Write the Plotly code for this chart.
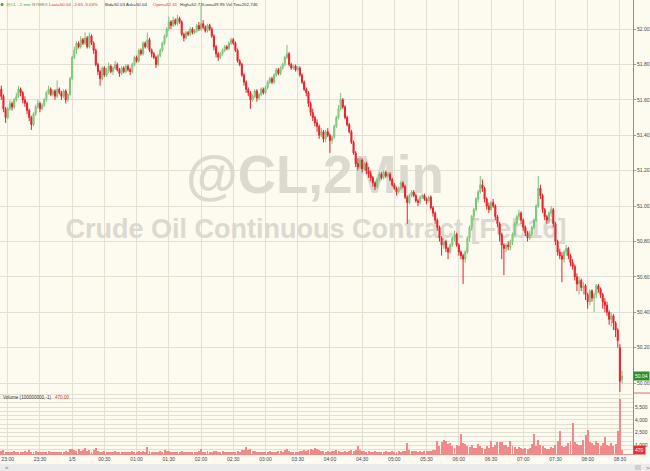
import pandas as pd
import plotly.graph_objects as go

# ---------------- data ----------------
START = "2016-01-04 22:54"
N_BARS = 290

opens = [
 51.66,51.62,51.55,51.50,51.55,51.58,51.56,51.60,51.62,51.66,
 51.64,51.60,51.58,51.54,51.50,51.46,51.52,51.56,51.58,51.55,
 51.57,51.60,51.64,51.66,51.63,51.65,51.62,51.66,51.64,51.62,
 51.65,51.60,51.63,51.72,51.84,51.88,51.92,51.90,51.94,51.92,
 51.95,51.90,51.96,51.92,51.88,51.80,51.76,51.72,51.78,51.74,
 51.77,51.79,51.76,51.78,51.80,51.77,51.75,51.78,51.76,51.79,
 51.77,51.76,51.80,51.84,51.82,51.88,51.86,51.92,51.90,51.94,
 51.88,51.86,51.84,51.80,51.85,51.88,51.92,51.96,52.00,52.04,
 52.02,52.05,52.03,52.06,52.04,51.97,51.95,51.98,51.97,52.00,
 51.98,51.99,52.02,52.00,52.03,52.01,51.99,52.02,52.00,51.96,
 51.90,51.86,51.84,51.86,51.88,51.90,51.89,51.92,51.94,51.92,
 51.88,51.82,51.80,51.74,51.70,51.66,51.64,51.60,51.62,51.65,
 51.61,51.63,51.66,51.64,51.67,51.70,51.72,51.70,51.74,51.77,
 51.75,51.78,51.80,51.84,51.86,51.80,51.78,51.79,51.77,51.78,
 51.74,51.70,51.66,51.64,51.58,51.53,51.50,51.47,51.45,51.40,
 51.42,51.38,51.42,51.40,51.37,51.39,51.45,51.50,51.55,51.60,
 51.56,51.50,51.46,51.42,51.36,51.30,51.24,51.22,51.26,51.21,
 51.24,51.20,51.18,51.16,51.13,51.11,51.15,51.18,51.16,51.19,
 51.17,51.18,51.15,51.12,51.10,51.08,51.10,51.13,51.11,51.05,
 51.02,51.06,51.08,51.06,51.03,51.02,51.05,51.06,51.04,51.03,
 51.05,50.99,50.96,50.92,50.88,50.82,50.78,50.80,50.76,50.74,
 50.78,50.82,50.84,50.78,50.74,50.72,50.70,50.74,50.82,50.88,
 50.94,50.98,51.04,51.08,51.12,51.10,51.04,51.00,50.98,51.02,
 51.00,50.94,50.90,50.84,50.78,50.76,50.78,50.77,50.80,50.84,
 50.90,50.94,50.96,50.92,50.88,50.85,50.82,50.84,50.88,50.92,
 51.00,51.10,51.06,50.98,50.94,50.92,50.96,50.98,50.90,50.80,
 50.74,50.72,50.70,50.74,50.76,50.72,50.68,50.66,50.60,50.56,
 50.58,50.54,50.55,50.50,50.46,50.52,50.48,50.50,50.55,50.53,
 50.50,50.46,50.44,50.40,50.36,50.38,50.34,50.30,50.20,50.02,
]
highs = [
 51.68,51.63,51.56,51.56,51.60,51.59,51.61,51.64,51.68,51.67,
 51.65,51.62,51.59,51.55,51.51,51.53,51.57,51.60,51.59,51.58,
 51.61,51.65,51.68,51.67,51.66,51.66,51.71,51.67,51.65,51.66,
 51.66,51.64,51.73,51.85,51.90,51.93,51.93,51.96,51.95,51.98,
 51.96,51.98,51.97,51.93,51.89,51.81,51.77,51.79,51.79,51.78,
 51.81,51.80,51.79,51.82,51.81,51.78,51.79,51.79,51.80,51.80,
 51.78,51.81,51.85,51.85,51.89,51.89,51.93,51.93,51.98,51.95,
 51.89,51.87,51.85,51.86,51.89,51.93,51.97,52.01,52.07,52.05,
 52.07,52.06,52.08,52.07,52.05,51.98,51.99,51.99,52.01,52.01,
 52.00,52.03,52.04,52.13,52.05,52.02,52.03,52.03,52.01,51.97,
 51.91,51.87,51.87,51.89,51.91,51.91,51.93,51.95,51.95,51.93,
 51.89,51.83,51.81,51.75,51.71,51.67,51.65,51.63,51.66,51.66,
 51.64,51.67,51.67,51.68,51.71,51.73,51.73,51.75,51.78,51.78,
 51.79,51.81,51.85,51.91,51.87,51.81,51.80,51.80,51.79,51.79,
 51.75,51.71,51.67,51.65,51.59,51.55,51.51,51.49,51.46,51.44,
 51.43,51.43,51.44,51.41,51.40,51.46,51.51,51.57,51.64,51.61,
 51.57,51.51,51.47,51.43,51.37,51.31,51.27,51.28,51.27,51.25,
 51.25,51.22,51.20,51.17,51.14,51.16,51.19,51.19,51.20,51.20,
 51.19,51.19,51.16,51.13,51.11,51.11,51.14,51.14,51.12,51.06,
 51.07,51.09,51.09,51.07,51.04,51.06,51.07,51.07,51.05,51.06,
 51.06,51.00,50.97,50.93,50.89,50.83,50.82,50.81,50.77,50.79,
 50.83,50.86,50.85,50.79,50.75,50.73,50.75,50.83,50.89,50.95,
 50.99,51.05,51.09,51.17,51.15,51.11,51.05,51.02,51.03,51.04,
 51.01,50.95,50.91,50.85,50.79,50.79,50.80,50.81,50.85,50.91,
 50.95,50.98,50.97,50.93,50.89,50.86,50.86,50.89,50.93,51.01,
 51.17,51.12,51.07,50.99,50.95,50.97,51.00,50.99,50.91,50.81,
 50.76,50.74,50.75,50.78,50.77,50.73,50.70,50.67,50.62,50.60,
 50.59,50.57,50.56,50.51,50.53,50.53,50.51,50.56,50.56,50.54,
 50.51,50.48,50.46,50.41,50.40,50.39,50.35,50.31,50.22,50.07,
]
lows = [
 51.60,51.53,51.47,51.49,51.54,51.54,51.55,51.59,51.61,51.62,
 51.58,51.56,51.52,51.48,51.43,51.45,51.51,51.55,51.53,51.54,
 51.56,51.59,51.63,51.62,51.62,51.60,51.61,51.63,51.60,51.61,
 51.58,51.59,51.62,51.71,51.83,51.86,51.89,51.89,51.91,51.91,
 51.89,51.89,51.91,51.86,51.79,51.74,51.68,51.71,51.73,51.73,
 51.75,51.75,51.74,51.77,51.76,51.73,51.74,51.75,51.75,51.76,
 51.74,51.75,51.79,51.81,51.81,51.85,51.85,51.89,51.89,51.87,
 51.84,51.83,51.78,51.79,51.84,51.87,51.91,51.95,51.99,52.00,
 52.01,52.02,52.02,52.03,51.96,51.93,51.94,51.96,51.96,51.97,
 51.97,51.98,51.99,51.99,52.00,51.98,51.98,51.99,51.95,51.88,
 51.84,51.82,51.83,51.85,51.87,51.88,51.88,51.91,51.91,51.87,
 51.81,51.79,51.73,51.68,51.64,51.62,51.55,51.59,51.61,51.59,
 51.60,51.62,51.63,51.63,51.66,51.69,51.69,51.69,51.73,51.74,
 51.74,51.77,51.79,51.83,51.79,51.77,51.77,51.76,51.76,51.73,
 51.69,51.65,51.62,51.56,51.51,51.48,51.45,51.42,51.38,51.39,
 51.36,51.36,51.39,51.30,51.35,51.38,51.44,51.49,51.54,51.55,
 51.49,51.45,51.41,51.35,51.29,51.22,51.20,51.21,51.19,51.20,
 51.18,51.16,51.14,51.11,51.09,51.10,51.14,51.15,51.15,51.16,
 51.16,51.14,51.11,51.09,51.06,51.07,51.09,51.10,51.04,50.90,
 51.01,51.05,51.05,51.02,51.00,51.01,51.04,51.03,51.01,51.02,
 50.98,50.94,50.90,50.86,50.80,50.72,50.76,50.74,50.70,50.73,
 50.77,50.80,50.77,50.72,50.70,50.56,50.68,50.73,50.80,50.86,
 50.92,50.97,51.02,51.07,51.08,51.02,50.98,50.96,50.97,50.99,
 50.92,50.88,50.80,50.70,50.61,50.74,50.75,50.75,50.78,50.83,
 50.89,50.92,50.90,50.86,50.83,50.80,50.81,50.83,50.87,50.91,
 50.99,51.04,50.96,50.92,50.90,50.90,50.94,50.88,50.78,50.72,
 50.70,50.57,50.68,50.72,50.70,50.66,50.64,50.58,50.52,50.50,
 50.52,50.50,50.47,50.42,50.44,50.46,50.40,50.48,50.51,50.48,
 50.42,50.40,50.38,50.33,50.32,50.30,50.26,50.20,49.95,50.00,
]
closes = [
 51.62,51.55,51.50,51.55,51.58,51.56,51.60,51.62,51.66,51.64,
 51.60,51.58,51.54,51.50,51.46,51.52,51.56,51.58,51.55,51.57,
 51.60,51.64,51.66,51.63,51.65,51.62,51.66,51.64,51.62,51.65,
 51.60,51.63,51.72,51.84,51.88,51.92,51.90,51.94,51.92,51.95,
 51.90,51.96,51.92,51.88,51.80,51.76,51.72,51.78,51.74,51.77,
 51.79,51.76,51.78,51.80,51.77,51.75,51.78,51.76,51.79,51.77,
 51.76,51.80,51.84,51.82,51.88,51.86,51.92,51.90,51.94,51.88,
 51.86,51.84,51.80,51.85,51.88,51.92,51.96,52.00,52.04,52.02,
 52.05,52.03,52.06,52.04,51.97,51.95,51.98,51.97,52.00,51.98,
 51.99,52.02,52.00,52.03,52.01,51.99,52.02,52.00,51.96,51.90,
 51.86,51.84,51.86,51.88,51.90,51.89,51.92,51.94,51.92,51.88,
 51.82,51.80,51.74,51.70,51.66,51.64,51.60,51.62,51.65,51.61,
 51.63,51.66,51.64,51.67,51.70,51.72,51.70,51.74,51.77,51.75,
 51.78,51.80,51.84,51.86,51.80,51.78,51.79,51.77,51.78,51.74,
 51.70,51.66,51.64,51.58,51.53,51.50,51.47,51.45,51.40,51.42,
 51.38,51.42,51.40,51.37,51.39,51.45,51.50,51.55,51.60,51.56,
 51.50,51.46,51.42,51.36,51.30,51.24,51.22,51.26,51.21,51.24,
 51.20,51.18,51.16,51.13,51.11,51.15,51.18,51.16,51.19,51.17,
 51.18,51.15,51.12,51.10,51.08,51.10,51.13,51.11,51.05,51.02,
 51.06,51.08,51.06,51.03,51.02,51.05,51.06,51.04,51.03,51.05,
 50.99,50.96,50.92,50.88,50.82,50.78,50.80,50.76,50.74,50.78,
 50.82,50.84,50.78,50.74,50.72,50.70,50.74,50.82,50.88,50.94,
 50.98,51.04,51.08,51.12,51.10,51.04,51.00,50.98,51.02,51.00,
 50.94,50.90,50.84,50.78,50.76,50.78,50.77,50.80,50.84,50.90,
 50.94,50.96,50.92,50.88,50.85,50.82,50.84,50.88,50.92,51.00,
 51.10,51.06,50.98,50.94,50.92,50.96,50.98,50.90,50.80,50.74,
 50.72,50.70,50.74,50.76,50.72,50.68,50.66,50.60,50.56,50.58,
 50.54,50.55,50.50,50.46,50.52,50.48,50.50,50.55,50.53,50.50,
 50.46,50.44,50.40,50.36,50.38,50.34,50.30,50.24,50.01,50.04,
]
volumes = [
 310,420,260,180,240,150,390,210,280,170,
 220,350,190,450,260,140,300,230,180,270,
 160,240,320,210,150,280,190,230,140,260,
 380,290,620,540,470,390,580,330,450,720,
 360,510,280,430,650,380,290,240,330,190,
 270,160,220,310,180,240,150,280,210,170,
 230,340,260,190,410,280,360,220,780,300,
 250,180,290,210,340,230,470,310,390,260,
 200,280,170,240,320,190,230,150,260,210,
 180,270,350,640,240,200,300,180,260,340,
 410,290,220,310,180,260,230,190,270,200,
 350,280,420,520,860,460,610,390,330,250,
 290,210,260,180,240,300,220,190,260,310,
 380,270,440,560,350,290,230,270,210,320,
 390,430,360,480,620,510,740,560,480,410,
 370,290,330,260,310,380,420,350,280,260,
 300,270,340,460,410,520,880,440,380,310,
 260,320,280,240,350,290,230,260,210,330,
 280,240,360,290,250,310,270,340,390,1250,
 420,350,300,380,260,330,290,350,410,320,
 380,460,520,1500,980,1350,1650,1480,1120,1280,
 880,760,1040,920,2400,1260,1180,930,820,1010,
 760,690,1130,880,740,620,980,700,1500,830,
 1020,1460,1410,1380,1060,1020,860,1510,940,780,
 620,830,700,560,760,540,680,1130,2350,920,
 1640,1100,880,760,640,540,830,700,1050,1560,
 2700,920,780,880,1320,1580,3600,1400,1220,1040,
 1010,1680,2250,2850,1430,1250,1080,1520,1250,890,
 1240,2000,1030,930,1340,880,1120,2700,6450,470,
]
time_tick_labels = ["23:00", "23:30", "1/5", "00:30", "01:00", "01:30", "02:00",
                    "02:30", "03:00", "03:30", "04:00", "04:30", "05:00", "05:30",
                    "06:00", "06:30", "07:00", "07:30", "08:00", "08:30"]
price_ticks = [50.00, 50.20, 50.40, 50.60, 50.80, 51.00, 51.20, 51.40, 51.60, 51.80, 52.00]
volume_label_ticks = [1000, 2500, 4000, 5500]

header_parts = [
    ("@CL - 2 min", "#4a9a4a"), ("NYMEX", "#6a8a6a"), ("Last=50.04", "#e03030"),
    ("-2.65", "#e03030"), ("-5.03%", "#e03030"), ("Bid=50.03", "#333333"),
    ("Ask=50.04", "#333333"), ("Open=52.61", "#e03030"), ("High=52.73", "#333333"),
    ("Low=49.95", "#333333"), ("Vol Tot=202,746", "#333333"),
]
watermark_title = "@CL,2Min"
watermark_sub = "Crude Oil Continuous Contract [Feb16]"
last_price = 50.04
last_volume = 470

for arr in (opens, highs, lows, closes, volumes):
    assert len(arr) == N_BARS, len(arr)

# ---------------- figure ----------------
times = pd.date_range(START, periods=N_BARS, freq="2min")
tick_times = pd.date_range("2016-01-04 23:00", periods=len(time_tick_labels), freq="30min")

W, H = 650, 471
ML, MR, MT, MB = 0, 17, 0, 17
PW, PH = W - ML - MR, H - MT - MB          # 633 x 454
split = (PH - 393) / PH                     # main/volume boundary

BG = "#fdfaf0"
GRID = "#e2dfd3"
AXLINE = "#d9707e"
TXT = "#444444"
FONT = "Liberation Sans"

two_min = pd.Timedelta(minutes=2)
x_left = times[0] - 0.6 * two_min
x_right = times[0] + 294.1 * two_min

fig = go.Figure()

# watermark (base layer, candles overlay it)
fig.add_trace(go.Scatter(
    x=[times[0] + 146 * two_min], y=[51.15], mode="text", text=[watermark_title],
    textfont=dict(size=53, color="#dcd9d0", family=FONT, weight="bold"),
    hoverinfo="skip", showlegend=False, xaxis="x", yaxis="y"))
fig.add_trace(go.Scatter(
    x=[times[0] + 146.5 * two_min], y=[50.86], mode="text", text=[watermark_sub],
    textfont=dict(size=27, color="#dcd9d0", family=FONT, weight="bold"),
    hoverinfo="skip", showlegend=False, xaxis="x", yaxis="y"))

fig.add_trace(go.Candlestick(
    x=times, open=opens, high=highs, low=lows, close=closes,
    increasing=dict(line=dict(color="#78c478", width=1), fillcolor="#a9dca9"),
    decreasing=dict(line=dict(color="#e5222c", width=1), fillcolor="#e5222c"),
    whiskerwidth=0, showlegend=False, xaxis="x", yaxis="y3"))

fig.add_trace(go.Bar(
    x=times, y=volumes, marker=dict(color="#f08a8a", line=dict(width=0)),
    width=55000, showlegend=False, xaxis="x", yaxis="y2"))

yr = [49.944, 52.164]
vol_ticks = list(range(500, 7001, 500))
vol_text = [f"{v:,}" if v in volume_label_ticks else "" for v in vol_ticks]

fig.update_layout(
    width=W, height=H,
    margin=dict(l=ML, r=MR, t=MT, b=MB),
    paper_bgcolor=BG, plot_bgcolor=BG,
    showlegend=False, bargap=0,
    font=dict(family=FONT, size=5, color=TXT),
    xaxis=dict(
        anchor="y2", domain=[0, 1], range=[x_left, x_right], type="date",
        tickvals=list(tick_times), ticktext=time_tick_labels,
        showgrid=True, gridcolor=GRID, gridwidth=1,
        showline=True, linecolor="#f08a8a", linewidth=1,
        ticks="", tickfont=dict(size=5, color=TXT),
        rangeslider=dict(visible=False), zeroline=False, fixedrange=True,
    ),
    yaxis=dict(
        domain=[split, 1], range=yr, side="right", anchor="x",
        tickvals=price_ticks, tickformat=".2f",
        showgrid=True, gridcolor=GRID, gridwidth=1,
        showline=True, linecolor=AXLINE, linewidth=1,
        ticks="outside", ticklen=2, tickcolor="#999999",
        tickfont=dict(size=5, color=TXT), zeroline=False,
    ),
    yaxis3=dict(
        overlaying="y", range=yr, side="right", visible=False,
        showgrid=False, zeroline=False,
    ),
    yaxis2=dict(
        domain=[0, split], range=[0, 7140], side="right", anchor="x",
        tickvals=vol_ticks, ticktext=vol_text,
        showgrid=True, gridcolor=GRID, gridwidth=1,
        showline=True, linecolor=AXLINE, linewidth=1,
        ticks="", tickfont=dict(size=5, color=TXT), zeroline=False,
    ),
)

ann = []
# header
header_x = [4, 30, 46.5, 71, 82, 103, 124, 151, 177.5, 201, 223.5]
for (txt, col), px in zip(header_parts, header_x):
    ann.append(dict(xref="paper", yref="paper", x=px / PW, y=1 - 4.5 / PH,
                    xanchor="left", yanchor="middle", showarrow=False,
                    text=txt, font=dict(size=4.4, color=col, family=FONT)))
# volume title
ann.append(dict(xref="paper", yref="paper", x=0.5 / PW, y=1 - 397 / PH,
                xanchor="left", yanchor="middle", showarrow=False,
                text="Volume (100000000,-1)", font=dict(size=4.6, color="#333333")))
ann.append(dict(xref="paper", yref="paper", x=53 / PW, y=1 - 397 / PH,
                xanchor="left", yanchor="middle", showarrow=False,
                text=f"{last_volume:.2f}", font=dict(size=4.6, color="#e03030")))
# last price / last volume boxes
ann.append(dict(xref="paper", yref="y", x=1.0, y=last_price,
                xanchor="left", yanchor="middle", showarrow=False,
                text=f"{last_price:.2f}", bgcolor="#2f8f2f", borderpad=1,
                font=dict(size=5, color="white")))
ann.append(dict(xref="paper", yref="y2", x=1.0, y=last_volume,
                xanchor="left", yanchor="middle", showarrow=False,
                text=f"{last_volume}", bgcolor="#e53030", borderpad=1,
                font=dict(size=5, color="white")))
# scrollbar arrows
ann.append(dict(xref="paper", yref="paper", x=3 / PW, y=(PH - 467.5) / PH,
                xanchor="left", yanchor="middle", showarrow=False,
                text="&lt;", font=dict(size=6, color="#555555")))
ann.append(dict(xref="paper", yref="paper", x=644 / PW, y=(PH - 467.5) / PH,
                xanchor="left", yanchor="middle", showarrow=False,
                text="&gt;", font=dict(size=6, color="#555555")))
fig.update_layout(annotations=ann)

shapes = [
    # scrollbar band
    dict(type="rect", xref="paper", yref="paper", x0=0, x1=W / PW,
         y0=(PH - 471) / PH, y1=(PH - 464) / PH,
         fillcolor="#ebebeb", line=dict(width=0), layer="above"),
    dict(type="rect", xref="paper", yref="paper", x0=635 / PW, x1=641 / PW,
         y0=(PH - 470) / PH, y1=(PH - 465) / PH,
         fillcolor="#cfcfcf", line=dict(width=0), layer="above"),
    # separator in the axis column
    dict(type="line", xref="paper", yref="paper", x0=1, x1=W / PW,
         y0=split, y1=split, line=dict(color=AXLINE, width=1)),
    # header icon
    dict(type="circle", xref="paper", yref="paper", x0=0.5 / PW, x1=3.5 / PW,
         y0=1 - 6 / PH, y1=1 - 3 / PH, fillcolor="#4a9a4a", line=dict(width=0)),
]
fig.update_layout(shapes=shapes)

fig.write_html("out.html", config={"displayModeBar": False},
               post_script="document.body.style.margin='0';document.body.style.background='#fdfaf0';")
